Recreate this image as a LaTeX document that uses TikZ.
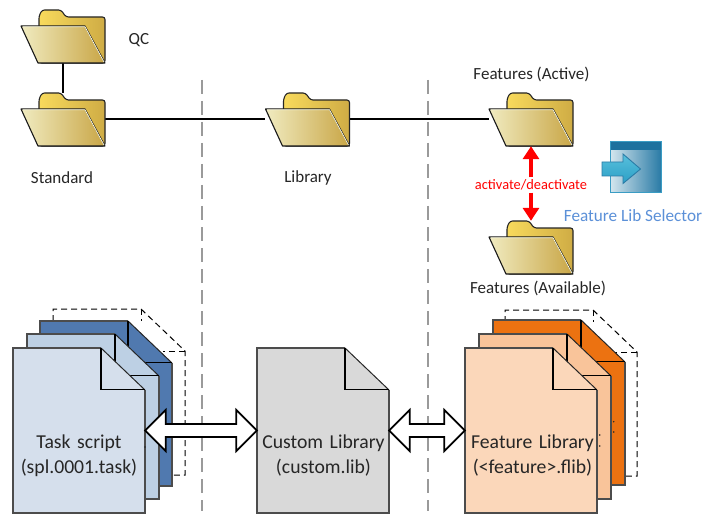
\documentclass[tikz,border=0pt]{standalone}
\usepackage{fontspec}
\setmainfont{Carlito}
\usetikzlibrary{arrows.meta,calc}
\definecolor{fdyl}{HTML}{F8DA5C}
\definecolor{fdyd}{HTML}{CFAC45}
\definecolor{fdpl}{HTML}{F0EBC0}
\definecolor{fdpd}{HTML}{C9A646}
\definecolor{bluea}{HTML}{D5DFEC}
\definecolor{blueb}{HTML}{BDD0E4}
\definecolor{bluec}{HTML}{5079AF}
\definecolor{orga}{HTML}{FBD7BA}
\definecolor{orgb}{HTML}{F9C49A}
\definecolor{orgc}{HTML}{EC7211}
\definecolor{grya}{HTML}{D9D9D9}
\definecolor{divider}{HTML}{9A9A9A}
\definecolor{sellabel}{HTML}{5B90D8}
\definecolor{iconbar}{HTML}{1E719E}
\definecolor{iconlight}{HTML}{D4E6EE}
\definecolor{icondark}{HTML}{2A7BA6}
\definecolor{iconedge}{HTML}{3A9CC4}
\definecolor{arrowa}{HTML}{58C0DC}
\definecolor{arrowb}{HTML}{2C9FC6}
\tikzset{
  x=1pt,y=-1pt,
  anchorbox/.style={draw=none,fill=none,inner sep=0pt,minimum width=84pt,minimum height=53pt},
  docbox/.style={draw=none,fill=none,inner sep=0pt,minimum width=132pt,minimum height=165pt},
  lbl/.style={font=\fontsize{17}{19}\selectfont,text=black!85,inner sep=0pt},
  doclbl/.style={font=\fontsize{19.7}{25.5}\selectfont,text=black!85,inner sep=0pt,align=center,text width=132pt},
  wire/.style={draw=black,line width=2pt},
  vdash/.style={draw=divider,line width=1.7pt,dash pattern=on 14pt off 7pt},
  docedge/.style={draw=black!70,line width=1.1pt,line join=miter},
  fold/.style={draw=black,line width=1.5pt,line join=miter},
  folddiag/.style={draw=black!85,line width=1pt},
  dashdoc/.style={draw=black,line width=1pt,dash pattern=on 6pt off 4pt},
  bigarrow/.style={draw=black,fill=white,line width=1.8pt,line join=miter},
  redarrow/.style={draw=red,line width=3.4pt,-{Triangle[length=13pt,width=16pt]}},
  speck/.style={fill=black!85,draw=none},
}
% folder: top-left x y
\newcommand{\folderart}[2]{%
  \begin{scope}[shift={(#1,#2)}]
    \shadedraw[left color=fdyl,right color=fdyd,draw=black!85,line width=1.1pt,rounded corners=2.5pt]
      (18,53) -- (18,6) -- (21,0) -- (40,0) -- (45,7) -- (84,7) -- (84,53) -- cycle;
    \shadedraw[left color=fdpl,right color=fdpd,draw=black!90,line width=1.1pt,line join=round]
      (0,16) -- (64,16) -- (84,53) -- (17,53) -- cycle;
    \draw[white!90!yellow,line width=.7pt] (1.5,16.7) -- (64,16.7) -- (83,52);
  \end{scope}}
% document: top-left x y, colour
\newcommand{\docart}[3]{%
  \begin{scope}[shift={(#1,#2)}]
    \path[fill=#3] (0,0) -- (88,0) -- (132,42) -- (132,165) -- (0,165) -- cycle;
    \draw[docedge] (88,0) -- (0,0) -- (0,165) -- (132,165) -- (132,42);
    \draw[folddiag] (88,0) -- (132,42);
    \draw[fold] (88,0) -- (88,41.5) -- (132,41.5);
  \end{scope}}
\newcommand{\dashart}[2]{%
  \begin{scope}[shift={(#1,#2)}]
    \draw[dashdoc] (0,12) -- (0,0) -- (88,0) -- (132,42) -- (132,166) -- (120,166);
    \draw[dashdoc] (88,0) -- (88,12);
    \draw[dashdoc] (132,42) -- (110,42);
  \end{scope}}
% double arrow between two named points
\newcommand{\dblarrow}[2]{%
  \draw[bigarrow] (#1) -- ($(#1)+(20.5,-20.5)$) -- ($(#1)+(20.5,-6.5)$)
    -- ($(#2)+(-20.5,-6.5)$) -- ($(#2)+(-20.5,-20.5)$) -- (#2)
    -- ($(#2)+(-20.5,20.5)$) -- ($(#2)+(-20.5,6.5)$)
    -- ($(#1)+(20.5,6.5)$) -- ($(#1)+(20.5,20.5)$) -- cycle;}
\begin{document}
\begin{tikzpicture}
\useasboundingbox (0,0) rectangle (702,516);
\fill[white] (0,0) rectangle (702,516);
% dividers
\coordinate (d1t) at (202,80); \coordinate (d1b) at (202,511);
\coordinate (d2t) at (428,80); \coordinate (d2b) at (428,511);
\draw[vdash] (d1t) -- (d1b);
\draw[vdash] (d2t) -- (d2b);
% folder anchors
\node[anchorbox] (qc)  at (63,36.5) {};
\node[anchorbox] (std) at (63,119.5) {};
\node[anchorbox] (lib) at (307.5,119.5) {};
\node[anchorbox] (act) at (531,119.5) {};
\node[anchorbox] (avl) at (531,247.5) {};
\draw[wire] (qc.south) -- (std.north);
\draw[wire] (std.east) -- (lib.west);
\draw[wire] (lib.east) -- (act.west);
\folderart{21}{10}
\folderart{21}{93}
\folderart{265.5}{93}
\folderart{489}{93}
\folderart{489}{221}
% folder labels
\node[lbl] (qcl)  at (139,40) {QC};
\node[lbl] (stdl) at (62,177.5) {Standard};
\node[lbl] (libl) at (308,177.5) {Library};
\node[lbl] (actl) at (531.5,74) {Features (Active)};
\node[lbl] (avll) at (538,288.5) {Features (Available)};
% activate arrow
\node[font=\fontsize{14.4}{16}\selectfont,text=red,inner sep=0pt,minimum height=15pt] (rel) at (531,185) {activate/deactivate};
\draw[redarrow] (rel.north -| act.south) -- (act.south);
\draw[redarrow] (rel.south -| avl.north) -- (avl.north);
% selector icon
\shade[shading=axis,shading angle=135,left color=iconlight,right color=icondark] (610,150) rectangle (661,193);
\fill[iconbar] (610,141.5) rectangle (661,150.5);
\draw[iconedge,line width=1pt] (610,141.5) rectangle (661,193);
\shadedraw[top color=arrowa,bottom color=arrowb,draw=icondark,line width=.9pt,line join=miter]
  (602,162) -- (623,162) -- (623,154) -- (640.5,169) -- (623,183.5) -- (623,176) -- (602,176) -- cycle;
\node[font=\fontsize{17.2}{19}\selectfont,text=sellabel,inner sep=0pt] (sel) at (633,216) {Feature Lib Selector};
% documents
\dashart{53}{309}
\docart{40}{321}{bluec}
\docart{27}{334}{blueb}
\docart{13}{348}{bluea}
\docart{257}{348}{grya}
\dashart{505}{310}
\docart{493}{320}{orgc}
\fill[speck] (613.7,421.7) circle (.8pt);
\fill[speck] (613.7,432) circle (.8pt);
\docart{479}{334}{orgb}
\fill[speck] (599.7,435) circle (.8pt);
\fill[speck] (599.7,446) circle (.8pt);
\docart{465}{348}{orga}
\node[docbox] (task) at (79,430.5) {};
\node[docbox] (cust) at (323,430.5) {};
\node[docbox] (feat) at (531,430.5) {};
\node[doclbl] (taskl) at (79,455.5) {Task script\\(spl.0001.task)};
\node[doclbl] (custl) at (323.5,455.5) {Custom Library\\(custom.lib)};
\node[doclbl] (featl) at (532.5,455.5) {Feature Library\\(<feature>.flib)};
\dblarrow{task.east}{cust.west}
\dblarrow{cust.east}{feat.west}
\fill[speck] (145,447) circle (.8pt);
\end{tikzpicture}
\end{document}
